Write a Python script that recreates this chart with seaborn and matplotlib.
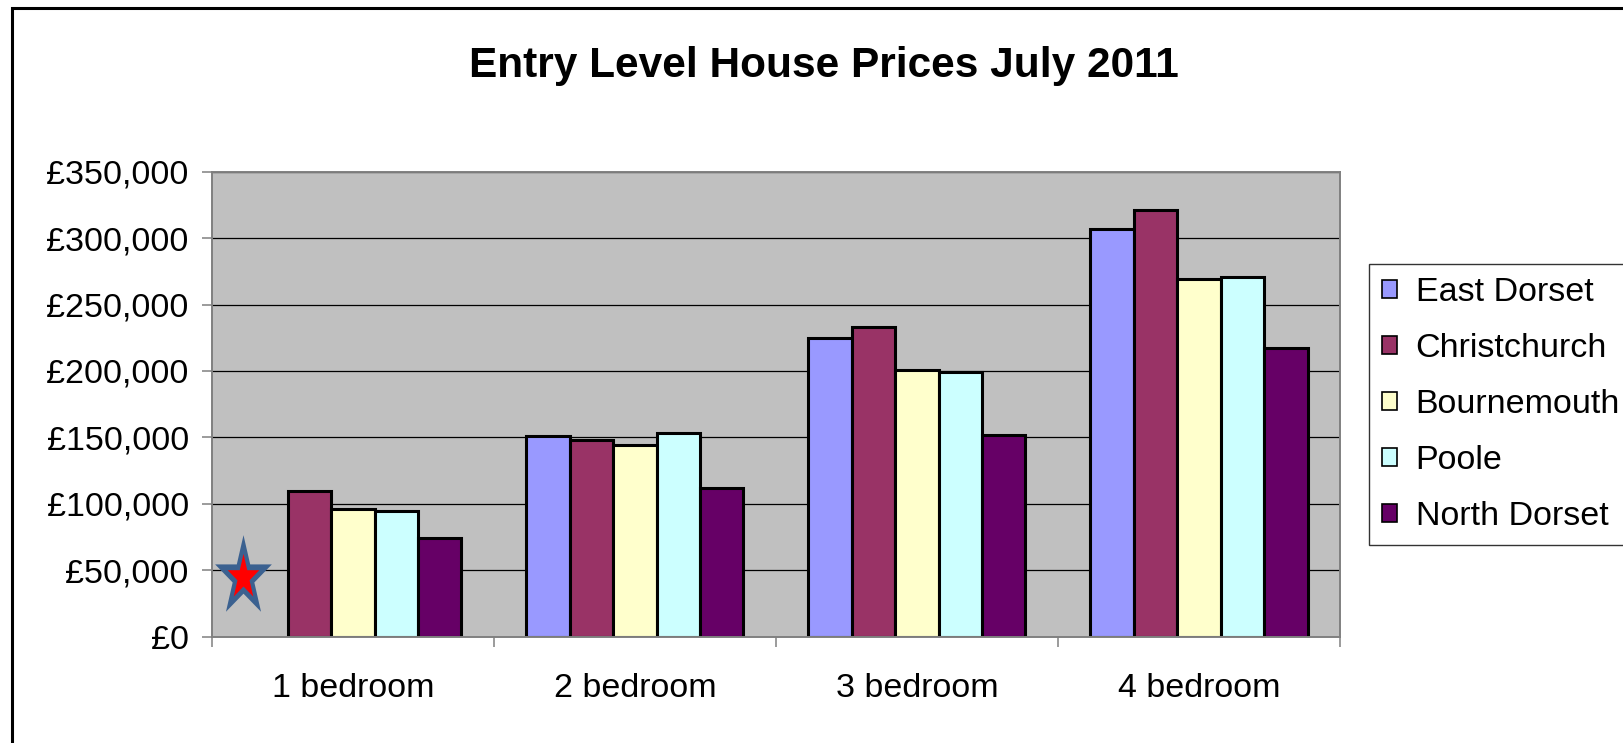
import numpy as np
import pandas as pd
import matplotlib
matplotlib.use("Agg")
import matplotlib.pyplot as plt
from matplotlib.path import Path
from matplotlib.patches import Rectangle
from matplotlib.ticker import FuncFormatter, FixedLocator
import seaborn as sns

# ---- data -------------------------------------------------------------
sizes = ["1 bedroom", "2 bedroom", "3 bedroom", "4 bedroom"]
areas = ["East Dorset", "Christchurch", "Bournemouth", "Poole", "North Dorset"]

east_dorset = [np.nan, 151000, 225000, 307000]
christchurch = [110000, 148000, 233000, 321000]
bournemouth = [96000, 144500, 201000, 269000]
poole = [94500, 153000, 199000, 271000]
north_dorset = [74000, 112000, 152000, 217000]

colors = ["#9999FF", "#993366", "#FFFFCC", "#CCFFFF", "#660066"]

title = "Entry Level House Prices July 2011"
y_ticks = [0, 50000, 100000, 150000, 200000, 250000, 300000, 350000]

# star marking the missing East Dorset 1-bedroom figure
star_x = -0.388
star_y = 44700

# ---- build long table -------------------------------------------------
series = [east_dorset, christchurch, bournemouth, poole, north_dorset]
rows = []
for area, vals in zip(areas, series):
    for size, v in zip(sizes, vals):
        rows.append({"size": size, "area": area, "price": v})
df = pd.DataFrame(rows).dropna()

# ---- styling ----------------------------------------------------------
sns.set_style("white")
plt.rcParams["font.family"] = ["Liberation Sans", "DejaVu Sans"]
plt.rcParams["text.color"] = "black"
plt.rcParams["xtick.labelcolor"] = "black"
plt.rcParams["ytick.labelcolor"] = "black"

fig = plt.figure(figsize=(16.24, 7.43), dpi=100)
ax = fig.add_axes([0.1304, 0.1431, 0.6947, 0.6258])
ax.set_facecolor("#C0C0C0")

sns.barplot(
    data=df, x="size", y="price", hue="area",
    order=sizes, hue_order=areas, palette=colors,
    width=0.77, saturation=1, errorbar=None,
    edgecolor="black", linewidth=2.2, ax=ax,
)

ax.set_xlim(-0.5, len(sizes) - 0.5)
ax.set_ylim(0, 350000)
ax.set_yticks(y_ticks)
ax.yaxis.set_major_formatter(FuncFormatter(lambda v, p: f"£{v:,.0f}"))
ax.yaxis.grid(True, color="black", linewidth=0.9)
ax.set_axisbelow(True)

ax.set_xlabel("")
ax.set_ylabel("")

for s in ax.spines.values():
    s.set_visible(True)
    s.set_color("#808080")
    s.set_linewidth(1.4)

ax.tick_params(axis="y", which="major", length=7.5, width=1.1, color="#808080",
               labelsize=24.5, pad=9, left=True, labelcolor="black")
ax.tick_params(axis="x", which="major", length=0, labelsize=24.5, pad=26.5,
               labelcolor="black")
ax.xaxis.set_minor_locator(FixedLocator(np.arange(-0.5, len(sizes), 1.0)))
ax.tick_params(axis="x", which="minor", length=7.5, width=1.1, color="#808080",
               bottom=True)

# star annotation
t = np.linspace(np.pi / 2, np.pi / 2 + 2 * np.pi, 11)[:-1]
r = np.where(np.arange(10) % 2 == 0, 1.0, 0.382)
verts = np.column_stack([r * np.cos(t), 1.42 * r * np.sin(t)])
verts = np.vstack([verts, verts[:1]])
codes = [Path.MOVETO] + [Path.LINETO] * 9 + [Path.CLOSEPOLY]
star = Path(verts, codes)
ax.plot([star_x], [star_y], marker=star, markersize=61, color="#3B6190",
        markeredgewidth=0, linestyle="none", zorder=5)
ax.plot([star_x], [star_y], marker=star, markersize=34, color="#FF0000",
        markeredgewidth=0, linestyle="none", zorder=6)

# legend
handles, labels = ax.get_legend_handles_labels()
if ax.legend_:
    ax.legend_.remove()
leg = fig.legend(
    handles, labels, loc="upper left",
    bbox_to_anchor=(1369.3 / 1624, 1 - 264.5 / 743),
    fontsize=24.5, frameon=True, fancybox=False, shadow=False,
    handlelength=0.43, handleheight=0.43, handletextpad=0.55,
    labelspacing=0.73, borderpad=0.38, borderaxespad=0,
)
leg.get_frame().set_edgecolor("black")
leg.get_frame().set_linewidth(1.0)
for h in leg.legend_handles:
    h.set_linewidth(1.2)
    h.set_edgecolor("black")
for txt in leg.get_texts():
    txt.set_color("black")

fig.text(823.5 / 1624, 1 - 66.5 / 743, title, ha="center", va="center",
         fontsize=30.5, fontweight="bold", color="black")

# outer chart border
fig.patches.append(Rectangle((11.7 / 1624, -0.2), 2.0, 1.2 - 8.3 / 743,
                             transform=fig.transFigure, fill=False,
                             edgecolor="black", linewidth=2.2, zorder=10))

fig.savefig("out.png", dpi=100)
